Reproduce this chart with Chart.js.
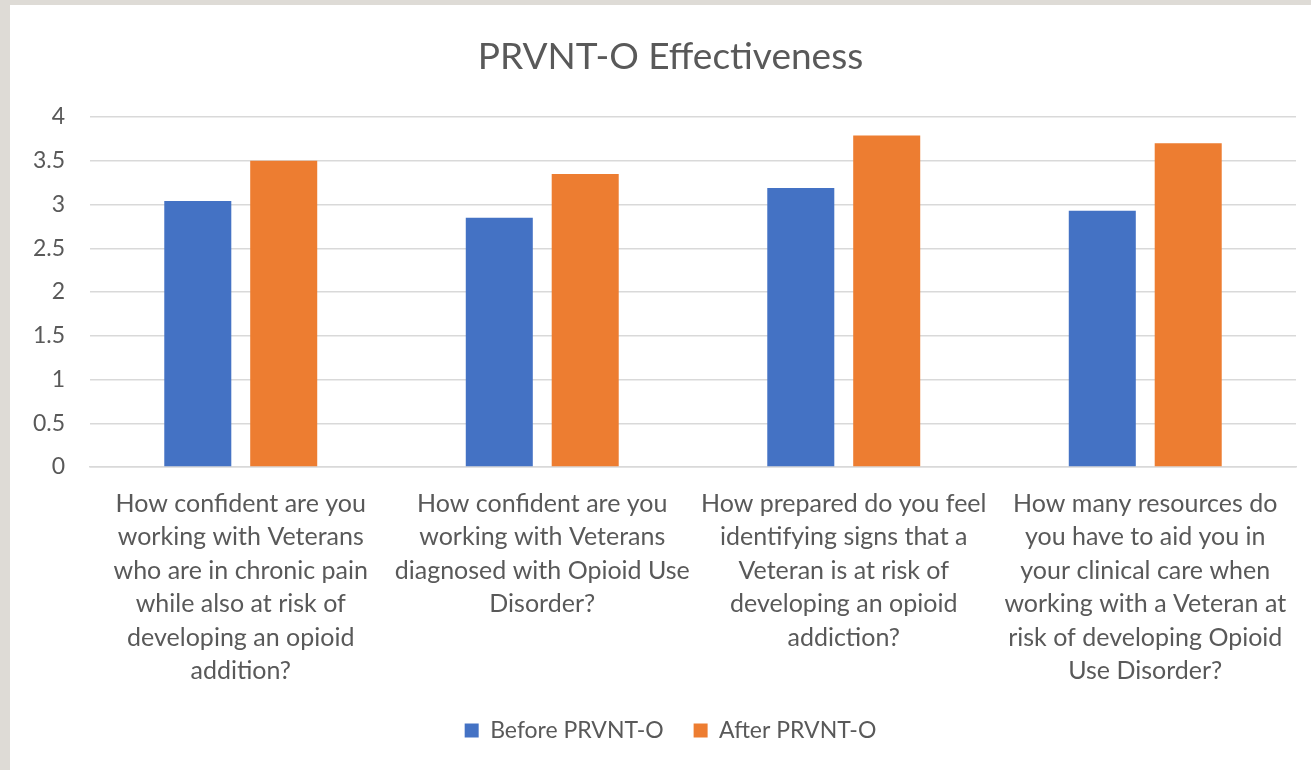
<!DOCTYPE html>
<html>
<head>
<meta charset="utf-8">
<script src="https://cdn.jsdelivr.net/npm/chart.js@4/dist/chart.umd.min.js"></script>
<style>
  html, body { margin: 0; padding: 0; overflow: hidden; background: #dedbd6; width: 1311px; height: 770px; }
  #wrap { position: absolute; left: 10px; top: 5px; width: 1321px; height: 765px; background: #ffffff; }
  canvas { display: block; }
</style>
</head>
<body>
<div id="wrap"><canvas id="c" width="1321" height="765"></canvas></div>
<script>
const chartTitle = "PRVNT-O Effectiveness";
const categories = [
  ["How confident are you", "working with Veterans", "who are in chronic pain", "while also at risk of", "developing an opioid", "addition?"],
  ["How confident are you", "working with Veterans", "diagnosed with Opioid Use", "Disorder?"],
  ["How prepared do you feel", "identifying signs that a", "Veteran is at risk of", "developing an opioid", "addiction?"],
  ["How many resources do", "you have to aid you in", "your clinical care when", "working with a Veteran at", "risk of developing Opioid", "Use Disorder?"]
];
const seriesNames = ["Before PRVNT-O", "After PRVNT-O"];
const beforeValues = [3.04, 2.85, 3.19, 2.93];
const afterValues = [3.50, 3.35, 3.79, 3.70];
const yTicks = [0, 0.5, 1, 1.5, 2, 2.5, 3, 3.5, 4];

const textColor = "#595959";
const fontFamily = "Lato, 'Open Sans', sans-serif";

new Chart(document.getElementById("c"), {
  type: "bar",
  data: {
    labels: categories,
    datasets: [
      { label: seriesNames[0], data: beforeValues, backgroundColor: "#4472C4", borderWidth: 0,
        barPercentage: 0.78, categoryPercentage: 0.57 },
      { label: seriesNames[1], data: afterValues, backgroundColor: "#ED7D31", borderWidth: 0,
        barPercentage: 0.78, categoryPercentage: 0.57 }
    ]
  },
  options: {
    responsive: false,
    animation: false,
    layout: { padding: { top: 0, bottom: 18, left: 0, right: 0 } },
    plugins: {
      title: {
        display: true, text: chartTitle, color: textColor,
        font: { family: fontFamily, size: 37, weight: "normal", lineHeight: 1.2 },
        padding: { top: 30, bottom: 37.6 }
      },
      legend: {
        position: "bottom",
        labels: {
          color: textColor, boxWidth: 14, boxHeight: 14, padding: 30,
          font: { family: fontFamily, size: 23 }
        }
      },
      tooltip: { enabled: false }
    },
    scales: {
      x: {
        grid: { display: false, drawTicks: false },
        border: { display: true, color: "#d9d9d9", width: 1.5 },
        ticks: {
          color: textColor, autoSkip: false, maxRotation: 0, minRotation: 0, padding: 20,
          font: { family: fontFamily, size: 25, lineHeight: 1.34 }
        },
        afterFit: (s) => { s.height = 222; }
      },
      y: {
        min: 0, max: 4,
        afterBuildTicks: (s) => { s.ticks = yTicks.map(v => ({ value: v })); },
        grid: { color: "#d9d9d9", lineWidth: 1.5, drawTicks: false },
        border: { display: false },
        ticks: {
          color: textColor, padding: 25,
          font: { family: fontFamily, size: 23 },
          callback: (v) => String(v)
        },
        afterFit: (s) => { s.width = 80; }
      },
      yRight: {
        position: "right", display: true,
        grid: { display: false, drawTicks: false },
        border: { display: false },
        ticks: { display: false },
        afterFit: (s) => { s.width = 35; }
      }
    }
  }
});
</script>
</body>
</html>
